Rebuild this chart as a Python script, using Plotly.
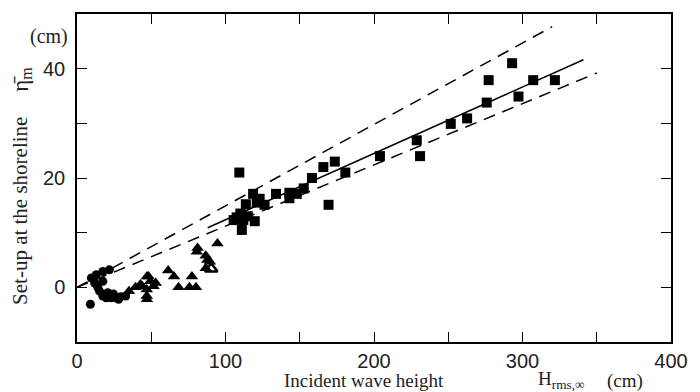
import plotly.graph_objects as go

# ---- data ----
circle_x = [9, 9.7, 11.9, 13, 14, 15.2, 17.4, 17.4, 17.4, 19.6, 20.7, 21.8, 22.9, 24.5, 26.2, 28, 29.5, 32.8]
circle_y = [-3.1, 1.7, 0.8, 2.3, 0, -0.7, 2.9, 1.1, -1.6, -1.9, -1.0, 3.2, -1.9, -1.2, -1.9, -2.2, -1.7, -1.6]

tri_x = [35, 39.4, 42.7, 44, 47.1, 48.2, 49.3, 51.5, 47, 47, 47.1, 53, 61.4, 65.3, 68.4, 75.7, 77.4, 80.1,
         80.7, 81.2, 86.7, 87.8, 86.7, 89.5, 94.6]
tri_y = [-0.7, 0, 0.5, 0.2, 2, 2, 1.1, 0.2, -0.4, -1.6, -2.2, 0.8, 3.1, 2, 0, 0, 2, 0,
         6.5, 7.2, 5.8, 5, 3.5, 4.7, 8]

open_tri_x = [90.4]
open_tri_y = [3.4]

sq_x = [105.5, 107.5, 109.3, 110, 111, 112, 113.7, 115, 118.6, 119.7, 121, 123, 126.3, 134, 143, 143,
        148, 152.7, 158.2, 165.9, 169.4, 173.6, 180.7, 204, 228.8, 231, 251.7, 262.7, 275.9, 277.2,
        293, 297.3, 307.2, 321.8]
sq_y = [12.3, 12.8, 21, 13.5, 10.5, 12.3, 15.2, 13, 17.1, 12.1, 15.5, 16.2, 15.1, 17.1, 16.3, 17.3,
        17.1, 18.1, 20, 22, 15.1, 23, 21, 24, 26.9, 24, 29.9, 30.9, 33.8, 37.9,
        41, 34.9, 37.9, 37.9]

fit_x = [88, 341]
fit_y = [0.1215 * 88 + 0.2, 0.1215 * 341 + 0.2]
upper_x = [0, 320]
upper_y = [0, 0.149 * 320]
lower_x = [0, 350]
lower_y = [0, 0.112 * 350]

x_major = [0, 100, 200, 300, 400]
x_minor = [50, 150, 250, 350]
y_major = [0, 20, 40]
y_minor = [10, 30]

# ---- layout geometry ----
W, H = 700, 392
ML, MR, MT, MB = 77, 17, 12, 50
PW, PH = W - ML - MR, H - MT - MB


def px(xp):
    return (xp - ML) / PW


def py(yp):
    return (H - MB - yp) / PH


fig = go.Figure()
dash = "12px,8px"
fig.add_trace(go.Scatter(x=upper_x, y=upper_y, mode="lines",
                         line=dict(color="black", width=1.5, dash=dash), hoverinfo="skip"))
fig.add_trace(go.Scatter(x=lower_x, y=lower_y, mode="lines",
                         line=dict(color="black", width=1.5, dash=dash), hoverinfo="skip"))
fig.add_trace(go.Scatter(x=fit_x, y=fit_y, mode="lines",
                         line=dict(color="black", width=1.5), hoverinfo="skip"))
fig.add_trace(go.Scatter(x=circle_x, y=circle_y, mode="markers",
                         marker=dict(symbol="circle", size=9, color="black")))
fig.add_trace(go.Scatter(x=tri_x, y=tri_y, mode="markers",
                         marker=dict(symbol="triangle-up", size=11, color="black")))
fig.add_trace(go.Scatter(x=open_tri_x, y=open_tri_y, mode="markers",
                         marker=dict(symbol="triangle-up-open", size=11, color="black",
                                     line=dict(width=2.5, color="black"))))
fig.add_trace(go.Scatter(x=sq_x, y=sq_y, mode="markers",
                         marker=dict(symbol="square", size=10, color="black")))

axis_common = dict(showgrid=False, zeroline=False, showline=True, linecolor="black", linewidth=1.5,
                   mirror="ticks", ticks="inside", ticklen=10, tickwidth=1.2, tickcolor="black",
                   tickfont=dict(family="Liberation Sans", size=20, color="#222"))

fig.update_xaxes(range=[0, 400], tickmode="array", tickvals=x_major,
                 minor=dict(tickmode="array", tickvals=x_minor, ticks="inside", ticklen=10,
                            tickwidth=1.2, tickcolor="black", showgrid=False),
                 **axis_common)
fig.update_yaxes(range=[-10, 50], tickmode="array", tickvals=y_major,
                 minor=dict(tickmode="array", tickvals=y_minor, ticks="inside", ticklen=10,
                            tickwidth=1.2, tickcolor="black", showgrid=False),
                 ticklabelstandoff=6, **axis_common)

serif = dict(family="Liberation Serif", size=19, color="#222")
ann = [
    dict(x=px(48), y=py(35), text="(cm)", font=dict(family="Liberation Serif", size=20, color="#222")),
    dict(x=px(19), y=py(210), text="Set-up at the shoreline", textangle=-90,
         font=dict(family="Liberation Serif", size=21, color="#222")),
    dict(x=px(20), y=py(78), text="η̄<sub>m</sub>", textangle=-90,
         font=dict(family="Liberation Serif", size=23, color="#222")),
    dict(x=px(370), y=py(381), text="Incident wave height", font=serif),
    dict(x=px(545), y=py(380), text="H<sub>rms,∞</sub>", font=serif, xanchor="left"),
    dict(x=px(636), y=py(381), text="(cm)", font=serif),
]
for a in ann:
    a.setdefault("xanchor", "center")
    a.update(xref="paper", yref="paper", yanchor="middle", showarrow=False)
fig.update_layout(annotations=ann)

fig.update_layout(width=W, height=H, margin=dict(l=ML, r=MR, t=MT, b=MB),
                  paper_bgcolor="white", plot_bgcolor="white", showlegend=False)

fig.write_html("out.html")
